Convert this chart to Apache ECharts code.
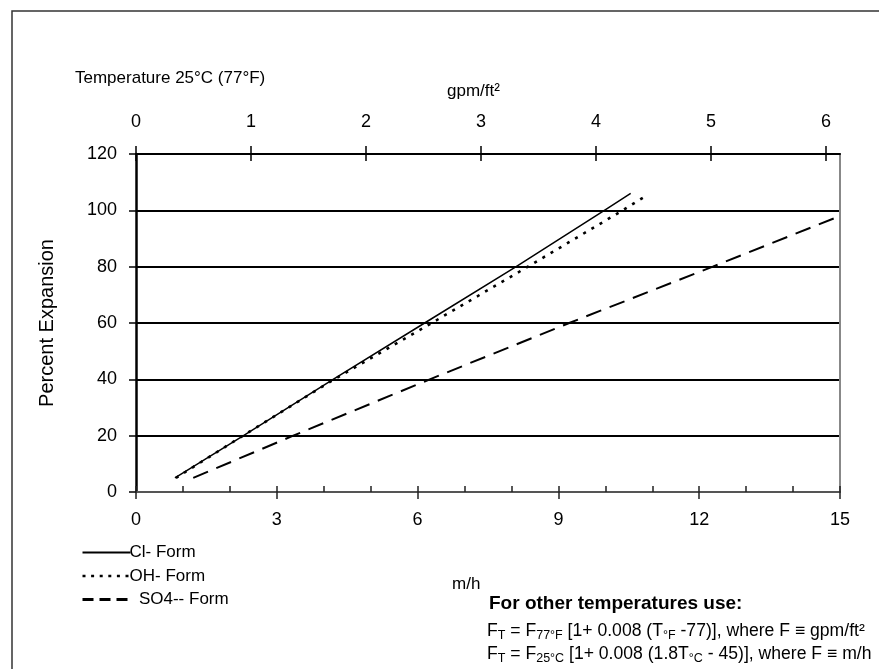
<!DOCTYPE html>
<html><head><meta charset="utf-8">
<script src="https://cdn.jsdelivr.net/npm/echarts@6/dist/echarts.min.js"></script>
<style>html,body{margin:0;padding:0;background:#fff}#c{width:879px;height:669px}</style>
</head><body><div id="c"></div>
<script>
// ---- data ----
const seriesNames = ['Cl- Form', 'OH- Form', 'SO4-- Form'];
const clFlow  = [0.83, 2.29, 4.2, 6.15, 8.1, 9.98, 10.54];
const clExp   = [5, 20, 40, 60, 80, 100, 106];
const ohFlow  = [0.85, 2.28, 4.22, 6.3, 8.35, 10.37, 10.9];
const ohExp   = [5, 20, 40, 60, 80, 100, 105.5];
const so4Flow = [1.22, 3.35, 6.26, 9.23, 12.29, 15];
const so4Exp  = [5, 20, 40, 60, 80, 98];
const yTicks = [0, 20, 40, 60, 80, 100, 120];
const mhTicks = [0, 3, 6, 9, 12, 15];
const gpmTicks = [0, 1, 2, 3, 4, 5, 6];
const MH_PER_GPM = 2.45;

const FONT = 'Liberation Sans, Arial, sans-serif';
const pair = (xs, ys) => xs.map((x, i) => [x, ys[i]]);

const chart = echarts.init(document.getElementById('c'), null, {renderer: 'canvas'});
const baseAxisFont = {fontFamily: FONT, fontSize: 18, color: '#000'};

const n = {fontFamily: FONT, fontSize: 17.6, color: '#000'};
const s = {fontFamily: FONT, fontSize: 12.5, color: '#000', padding: [9, 0, 0, 0]};

chart.setOption({
  animation: false,
  backgroundColor: '#fff',
  grid: {left: 136, right: 39, top: 154, bottom: 177, containLabel: false},
  xAxis: [
    { // bottom m/h, labels + outside ticks
      type: 'value', position: 'bottom', min: 0, max: 15, interval: 3,
      axisLine: {show: true, lineStyle: {color: '#555', width: 2}},
      axisTick: {show: true, inside: false, length: 7, lineStyle: {color: '#222', width: 1.5}},
      axisLabel: Object.assign({margin: 19, customValues: mhTicks}, baseAxisFont),
      splitLine: {show: false}
    },
    { // bottom inside minor ticks
      type: 'value', position: 'bottom', min: 0, max: 15, interval: 1,
      axisLine: {show: false},
      axisTick: {show: true, inside: true, length: 6, lineStyle: {color: '#222', width: 1.5}},
      axisLabel: {show: false}, splitLine: {show: false}
    },
    { // top gpm/ft2 labels + outside ticks
      type: 'value', position: 'top', min: 0, max: 15 / MH_PER_GPM,
      axisLine: {show: true, lineStyle: {color: '#000', width: 2}},
      axisTick: {show: true, inside: false, length: 8, customValues: gpmTicks, lineStyle: {color: '#000', width: 1.5}},
      axisLabel: Object.assign({margin: 23, customValues: gpmTicks, formatter: v => String(v)}, baseAxisFont),
      splitLine: {show: false}
    },
    { // top inside ticks
      type: 'value', position: 'top', min: 0, max: 15 / MH_PER_GPM,
      axisLine: {show: false},
      axisTick: {show: true, inside: true, length: 7, customValues: gpmTicks, lineStyle: {color: '#000', width: 1.5}},
      axisLabel: {show: false}, splitLine: {show: false}
    }
  ],
  yAxis: [
    {
      type: 'value', position: 'left', min: 0, max: 120, interval: 20,
      name: 'Percent Expansion', nameLocation: 'middle', nameRotate: 90, nameGap: 79,
      nameTextStyle: {fontFamily: FONT, fontSize: 20, color: '#000'},
      axisLine: {show: true, onZero: false, lineStyle: {color: '#000', width: 2.5}},
      axisTick: {show: true, inside: false, length: 7, lineStyle: {color: '#000', width: 1.5}},
      axisLabel: Object.assign({margin: 19, customValues: yTicks}, baseAxisFont),
      splitLine: {show: true, showMinLine: false, lineStyle: {color: '#000', width: 2}}
    },
    {
      type: 'value', position: 'right', min: 0, max: 120,
      axisLine: {show: true, onZero: false, lineStyle: {color: '#888', width: 2}},
      axisTick: {show: false}, axisLabel: {show: false}, splitLine: {show: false}
    }
  ],
  legend: {
    orient: 'vertical', left: 76, top: 539, itemWidth: 48, itemHeight: 12, itemGap: 6.5,
    data: [
      {name: seriesNames[0]},
      {name: seriesNames[1], lineStyle: {type: [3, 5.6], width: 2.6}},
      {name: seriesNames[2], lineStyle: {type: [11, 6], width: 3}}
    ],
    selectedMode: false,
    itemStyle: {opacity: 0},
    formatter: name => name === 'SO4-- Form' ? '  ' + name : name,
    textStyle: {fontFamily: FONT, fontSize: 17, color: '#000', padding: [0, 0, 0, -6]}
  },
  series: [
    {name: seriesNames[0], type: 'line', xAxisIndex: 0, yAxisIndex: 0, symbol: 'none', silent: true,
     data: pair(clFlow, clExp), lineStyle: {color: '#000', width: 1.5, type: 'solid'}, itemStyle: {color: '#000'}},
    {name: seriesNames[1], type: 'line', xAxisIndex: 0, yAxisIndex: 0, symbol: 'none', silent: true,
     data: pair(ohFlow, ohExp), lineStyle: {color: '#000', width: 2.6, type: [3, 6.5]}, itemStyle: {color: '#000'}},
    {name: seriesNames[2], type: 'line', xAxisIndex: 0, yAxisIndex: 0, symbol: 'none', silent: true,
     data: pair(so4Flow, so4Exp), lineStyle: {color: '#000', width: 2, type: [16, 9]}, itemStyle: {color: '#000'}}
  ],
  graphic: [
    {type: 'rect', z: -10, silent: true, shape: {x: 12, y: 11, width: 900, height: 700},
     style: {fill: 'none', stroke: '#333', lineWidth: 1.5}},
    {type: 'text', left: 75, top: 70, silent: true,
     style: {text: 'Temperature 25°C (77°F)', font: '17px ' + FONT, fill: '#000'}},
    {type: 'text', left: 447, top: 83, silent: true,
     style: {text: 'gpm/ft²', font: '17px ' + FONT, fill: '#000'}},
    {type: 'text', left: 452, top: 576, silent: true,
     style: {text: 'm/h', font: '17px ' + FONT, fill: '#000'}},
    {type: 'text', left: 489, top: 594, silent: true,
     style: {text: 'For other temperatures use:', font: 'bold 19px ' + FONT, fill: '#000'}},
    {type: 'text', left: 487, top: 622, silent: true,
     style: {text: '{n|F}{s|T}{n| = F}{s|77°F}{n| [1+ 0.008 (T}{s|°F}{n| -77)], where F ≡ gpm/ft²}', rich: {n: n, s: s}}},
    {type: 'text', left: 487, top: 645, silent: true,
     style: {text: '{n|F}{s|T}{n| = F}{s|25°C}{n| [1+ 0.008 (1.8T}{s|°C}{n| - 45)], where F ≡ m/h}', rich: {n: n, s: s}}}
  ]
});
</script>
</body></html>
